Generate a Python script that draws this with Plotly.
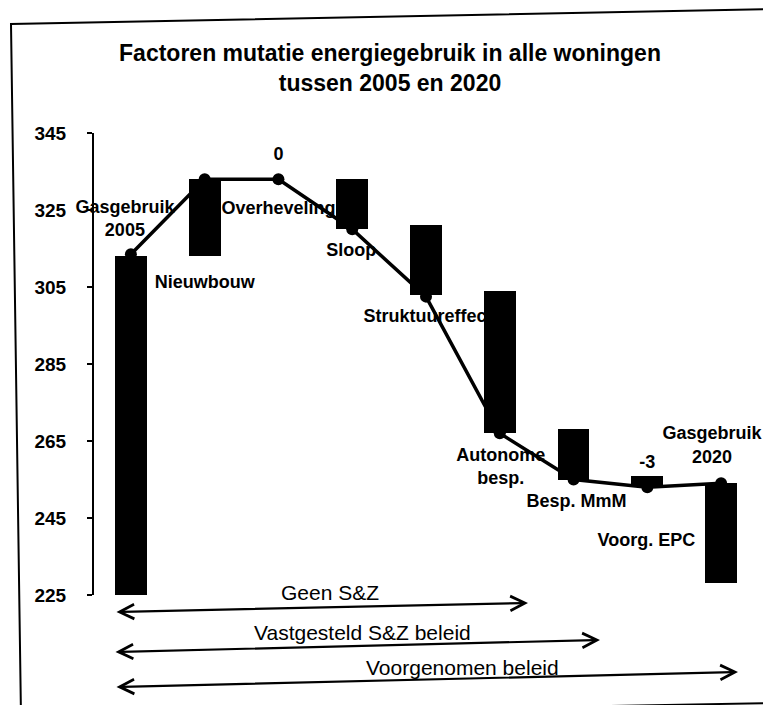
import plotly.graph_objects as go

# ---------------- data ----------------
categories = ["Gasgebruik 2005", "Nieuwbouw", "Overheveling", "Sloop", "Struktuureffect",
              "Autonome besp.", "Besp. MmM", "Voorg. EPC", "Gasgebruik 2020"]
label_texts = ["Gasgebruik<br>2005", "Nieuwbouw", "Overheveling", "Sloop", "Struktuureffect",
               "Autonome<br>besp.", "Besp. MmM", "Voorg. EPC", "Gasgebruik<br>2020"]
bar_low = [225, 313, 333, 320, 303, 267, 255, 253, 228]
bar_high = [313, 333, 333, 333, 321, 304, 268, 256, 254]
line_values = [313.5, 333, 333, 320, 302.5, 267, 255, 253, 254]
value_labels = ["", "", "0", "", "", "", "", "-3", ""]
y_ticks = [225, 245, 265, 285, 305, 325, 345]
scenario_labels = ["Geen S&Z", "Vastgesteld S&Z beleid", "Voorgenomen beleid"]

title_text = "Factoren mutatie energiegebruik in alle woningen<br>tussen 2005 en 2020"

# ---------------- layout geometry ----------------
OFF = 8  # page body margin of the browser
W, H = 771 - 2 * OFF, 713 - 2 * OFF   # keep the page free of scrollbars
ML, MT = 94 - OFF, 133 - OFF
PW, PH = 664, 462
MR, MB = W - ML - PW, H - MT - PH
Y0, Y1 = 225, 345
X0, X1 = -0.5, len(categories) - 0.5
px_per_x = PW / (X1 - X0)
px_per_y = PH / (Y1 - Y0)


def px_to_paper(px, py):
    """Reference-picture pixel -> paper coordinates."""
    fx_, fy_ = px - OFF, py - OFF
    return (fx_ - ML) / PW, (MT + PH - fy_) / PH


x_idx = list(range(len(categories)))

# label offsets in pixels (dx right, dy up) relative to the line marker
label_offsets = [(-6, 34), (0, -104), (0, -30), (-1, -22), (2, -21),
                 (1, -35), (3, -23), (-1, -54), (-9, 37)]
value_offsets = [(0, 24)] * len(categories)

lab_x = [i + dx / px_per_x for i, (dx, dy) in zip(x_idx, label_offsets)]
lab_y = [v + dy / px_per_y for v, (dx, dy) in zip(line_values, label_offsets)]
val_x = [i + dx / px_per_x for i, (dx, dy) in zip(x_idx, value_offsets)]
val_y = [v + dy / px_per_y for v, (dx, dy) in zip(line_values, value_offsets)]

FONT = "Liberation Sans"

fig = go.Figure()

# labels (drawn underneath bars and line)
fig.add_trace(go.Scatter(
    x=lab_x, y=lab_y, mode="text", text=label_texts, textposition="middle center",
    textfont=dict(family=FONT, size=18, color="black", weight="bold"),
    cliponaxis=False, hoverinfo="skip", showlegend=False, xaxis="x", yaxis="y"))
fig.add_trace(go.Scatter(
    x=val_x, y=val_y, mode="text", text=value_labels, textposition="middle center",
    textfont=dict(family=FONT, size=18, color="black", weight="bold"),
    cliponaxis=False, hoverinfo="skip", showlegend=False, xaxis="x", yaxis="y"))

# floating bars
fig.add_trace(go.Bar(
    x=x_idx, y=[h - l for h, l in zip(bar_high, bar_low)], base=bar_low,
    width=0.43, marker=dict(color="black", line=dict(width=0)),
    customdata=categories, hovertemplate="%{customdata}<extra></extra>",
    showlegend=False, xaxis="x", yaxis="y2"))

# connecting line
fig.add_trace(go.Scatter(
    x=x_idx, y=line_values, mode="lines+markers",
    line=dict(color="black", width=3.5),
    marker=dict(color="black", size=12),
    customdata=categories, hovertemplate="%{customdata}: %{y}<extra></extra>",
    cliponaxis=False, showlegend=False, xaxis="x", yaxis="y2"))

# ---------------- annotations: scenario arrows ----------------
annotations = []
arrow_specs = [  # (left px, left py, right px, right py) in reference pixels
    (115, 612, 528, 603),
    (114, 652, 600, 640),
    (115, 687, 738, 672),
]
text_specs = [(330, 592), (362, 632), (462, 667)]
for (lx, ly, rx, ry) in arrow_specs:
    hx, hy = px_to_paper(rx, ry)
    annotations.append(dict(
        x=hx, y=hy, xref="paper", yref="paper",
        ax=lx - rx, ay=ly - ry, axref="pixel", ayref="pixel",
        text="", showarrow=True, arrowside="end+start",
        arrowhead=5, startarrowhead=5, arrowsize=1.3, startarrowsize=1.3,
        arrowwidth=2.2, arrowcolor="black", standoff=0, startstandoff=0))
for txt, (tx, ty) in zip(scenario_labels, text_specs):
    px, py = px_to_paper(tx, ty)
    annotations.append(dict(
        x=px, y=py, xref="paper", yref="paper", text=txt, showarrow=False,
        xanchor="center", yanchor="middle",
        font=dict(family=FONT, size=21, color="black")))

# ---------------- frame (scanned border) ----------------
fx = lambda p: px_to_paper(*p)
tl, tr = fx((11, 24)), fx((771, 9))
bl_, br_ = fx((21, 717)), fx((771, 703))
frame_path = (f"M {tr[0]},{tr[1]} L {tl[0]},{tl[1]} L {bl_[0]},{bl_[1]} "
              f"M {bl_[0]},{bl_[1]} L {br_[0]},{br_[1]}")
shapes = [dict(type="path", xref="paper", yref="paper", path=frame_path,
               line=dict(color="black", width=2))]

fig.update_layout(
    width=W, height=H,
    margin=dict(l=ML, r=MR, t=MT, b=MB),
    paper_bgcolor="white", plot_bgcolor="white",
    title=dict(text=title_text, x=(390 - OFF) / W, xanchor="center", xref="container",
               y=1 - (61 - OFF) / H, yanchor="middle", yref="container",
               font=dict(family=FONT, size=23, color="black", weight="bold")),
    xaxis=dict(range=[X0, X1], visible=False, fixedrange=True),
    yaxis=dict(range=[Y0, Y1], tickvals=y_ticks, showgrid=False, zeroline=False,
               showline=True, linecolor="black", linewidth=2,
               ticks="outside", ticklen=5, tickwidth=2, tickcolor="black",
               ticklabelstandoff=17,
               tickfont=dict(family=FONT, size=19, color="black", weight="bold")),
    yaxis2=dict(range=[Y0, Y1], overlaying="y", visible=False),
    annotations=annotations,
    shapes=shapes,
    bargap=0,
)

fig.write_html("out.html")
